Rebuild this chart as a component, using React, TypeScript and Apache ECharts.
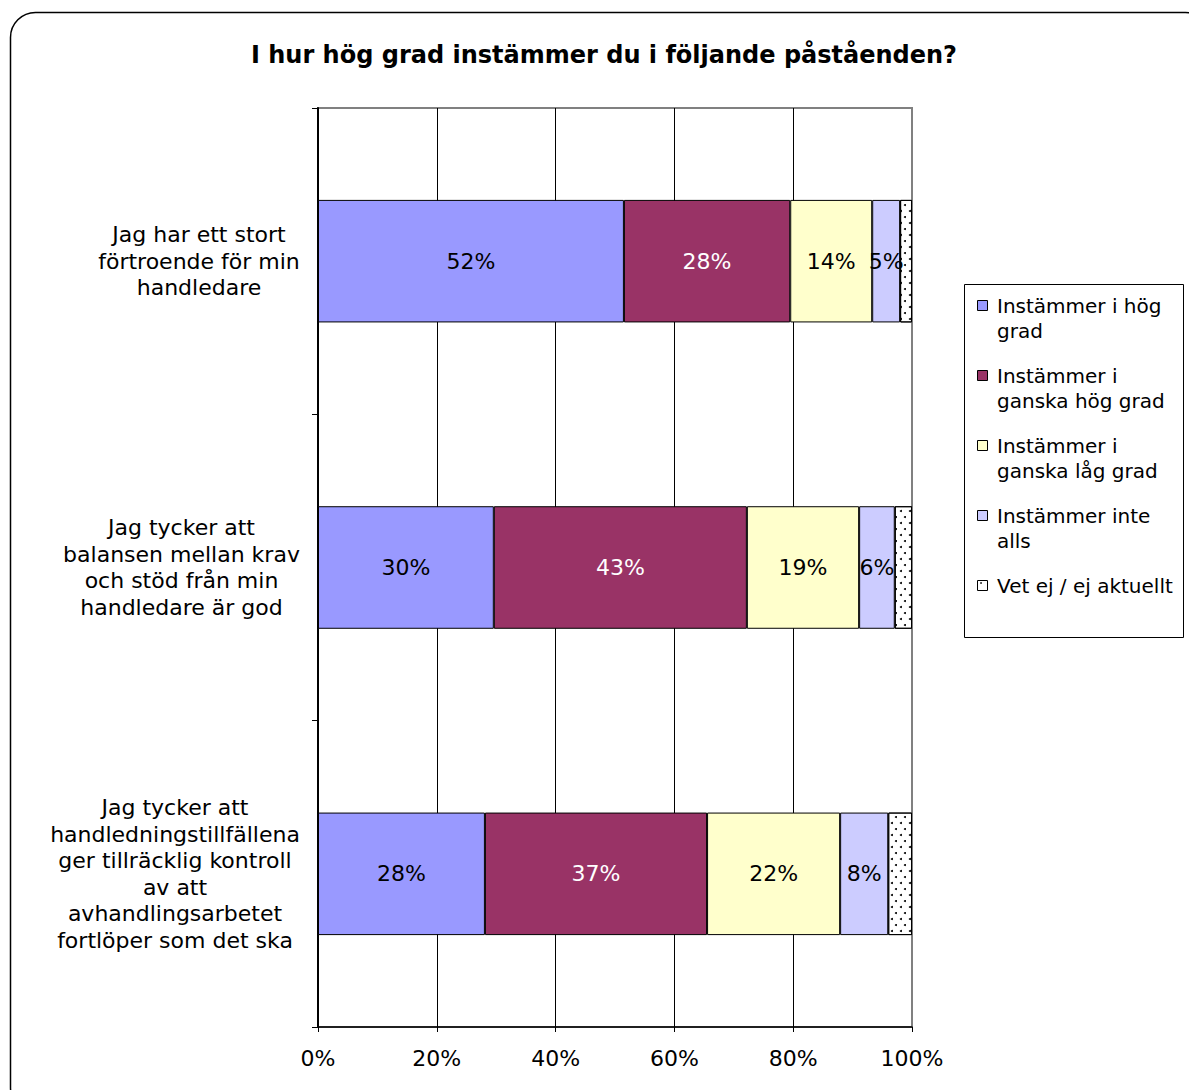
import React, { useEffect, useRef } from "react";
import * as echarts from "echarts";

const categories = [
  "Jag har ett stort\nförtroende för min\nhandledare",
  "Jag tycker att\nbalansen mellan krav\noch stöd från min\nhandledare är god",
  "Jag tycker att\nhandledningstillfällena\nger tillräcklig kontroll\nav att\navhandlingsarbetet\nfortlöper som det ska",
];

const seriesNames = [
  "Instämmer i hög grad",
  "Instämmer i ganska hög grad",
  "Instämmer i ganska låg grad",
  "Instämmer inte alls",
  "Vet ej / ej aktuellt",
];

const legendLines = [
  ["Instämmer i hög", "grad"],
  ["Instämmer i", "ganska hög grad"],
  ["Instämmer i", "ganska låg grad"],
  ["Instämmer inte", "alls"],
  ["Vet ej / ej aktuellt"],
];

const hogGrad = [51.5, 29.6, 28.1];
const ganskaHog = [28.0, 42.6, 37.4];
const ganskaLag = [13.8, 18.9, 22.4];
const inteAlls = [4.7, 6.0, 8.1];
const vetEj = [2.0, 2.9, 4.0];

const xTicks = [0, 20, 40, 60, 80, 100];

const seriesValues = [hogGrad, ganskaHog, ganskaLag, inteAlls, vetEj];
const colors = ["#9999FF", "#993366", "#FFFFCC", "#CCCCFF", "#FFFFFF"];
const labelColors = ["#000", "#fff", "#000", "#000", "#000"];

const FONT = "DejaVu Sans";
const CAT_FONT_SIZE = 22;

function measureBlock(text: string): number {
  const canvas = document.createElement("canvas");
  const ctx = canvas.getContext("2d");
  if (!ctx) return 200;
  ctx.font = `${CAT_FONT_SIZE}px "${FONT}"`;
  return Math.ceil(
    Math.max(...text.split("\n").map((l) => ctx.measureText(l).width))
  );
}

export default function App() {
  const ref = useRef<HTMLDivElement>(null);

  useEffect(() => {
    if (!ref.current) return;
    const chart = echarts.init(ref.current, undefined, { renderer: "svg" });

    const rich: Record<string, any> = {};
    categories.forEach((c, i) => {
      rich[`c${i}`] = {
        width: measureBlock(c),
        align: "center",
        fontFamily: FONT,
        fontSize: CAT_FONT_SIZE,
        lineHeight: 26.5,
        color: "#000",
      };
    });

    const series = seriesValues.map((vals, i) => ({
      name: seriesNames[i],
      type: "bar",
      stack: "total",
      barWidth: "40%",
      data: vals,
      itemStyle: {
        color: colors[i],
        borderColor: "#000",
        borderWidth: 1,
        ...(i === 4
          ? {
              decal: {
                symbol: "circle",
                symbolSize: 1,
                color: "#000",
                backgroundColor: "#fff",
                dashArrayX: [
                  [1.4, 6.6],
                  [0, 4, 1.4, 2.6],
                ],
                dashArrayY: [1.4, 3.6],
                rotation: 0,
              },
            }
          : {}),
      },
      label: {
        show: i < 4,
        position: "inside",
        color: labelColors[i],
        fontFamily: FONT,
        fontSize: 22,
        formatter: (p: any) => `${Math.round(p.value)}%`,
      },
      emphasis: { disabled: true },
    }));

    const legendGraphics: any[] = [
      {
        type: "rect",
        shape: { x: 964.5, y: 284.5, width: 219, height: 353 },
        style: { fill: "#fff", stroke: "#000", lineWidth: 1 },
      },
    ];
    legendLines.forEach((lines, i) => {
      const y0 = 306 + i * 70;
      legendGraphics.push({
        type: "rect",
        shape: { x: 977.5, y: y0 - 5.5, width: 10, height: 10 },
        style: { fill: colors[i], stroke: "#000", lineWidth: 1 },
      });
      if (i === 4) {
        legendGraphics.push({
          type: "circle",
          shape: { cx: 981, cy: y0 - 3, r: 0.8 },
          style: { fill: "#000" },
        });
      }
      lines.forEach((ln, j) => {
        legendGraphics.push({
          type: "text",
          x: 997,
          y: y0 + j * 24.5,
          style: {
            text: ln,
            fontFamily: FONT,
            fontSize: 20,
            fill: "#000",
            textAlign: "left",
            textVerticalAlign: "middle",
          },
        });
      });
    });

    chart.setOption({
      animation: false,
      backgroundColor: "#fff",
      grid: {
        left: 318,
        right: 1189 - 912,
        top: 108,
        bottom: 1090 - 1027,
        show: true,
        borderColor: "#808080",
        borderWidth: 2,
        containLabel: false,
      },
      xAxis: {
        type: "value",
        min: 0,
        max: 100,
        interval: 20,
        axisLine: { show: true, lineStyle: { color: "#000", width: 1.5 } },
        axisTick: { show: true, length: 5, lineStyle: { color: "#000" } },
        splitLine: {
          show: true,
          lineStyle: {
            color: ["#000", "#000", "#000", "#000", "#000", "#808080"],
            width: 1,
          },
        },
        axisLabel: {
          formatter: (v: number) => (xTicks.includes(v) ? `${v}%` : ""),
          fontFamily: FONT,
          fontSize: 22,
          color: "#000",
          margin: 20,
        },
      },
      yAxis: {
        type: "category",
        inverse: true,
        data: categories,
        axisLine: { show: true, lineStyle: { color: "#000", width: 2 } },
        axisTick: { show: true, length: 6, lineStyle: { color: "#000" } },
        splitLine: { show: false },
        axisLabel: {
          fontFamily: FONT,
          fontSize: CAT_FONT_SIZE,
          lineHeight: 26.5,
          color: "#000",
          align: "right",
          margin: 18,
          formatter: (value: string, index: number) =>
            value
              .split("\n")
              .map((l) => `{c${index}|${l}}`)
              .join("\n"),
          rich,
        },
      },
      series,
      graphic: [
        {
          type: "rect",
          shape: { x: 10.5, y: 12.5, width: 1200, height: 1100, r: 25 },
          style: { fill: "none", stroke: "#000", lineWidth: 1.5 },
          z: 100,
        },
        {
          type: "text",
          x: 604,
          y: 55,
          style: {
            text: "I hur hög grad instämmer du i följande påståenden?",
            fontFamily: FONT,
            fontSize: 24,
            fontWeight: "bold",
            fill: "#000",
            textAlign: "center",
            textVerticalAlign: "middle",
          },
        },
        ...legendGraphics,
      ],
    });

    return () => chart.dispose();
  }, []);

  return (
    <div
      ref={ref}
      style={{ position: "absolute", left: 0, top: 0, width: 1189, height: 1090 }}
    />
  );
}
